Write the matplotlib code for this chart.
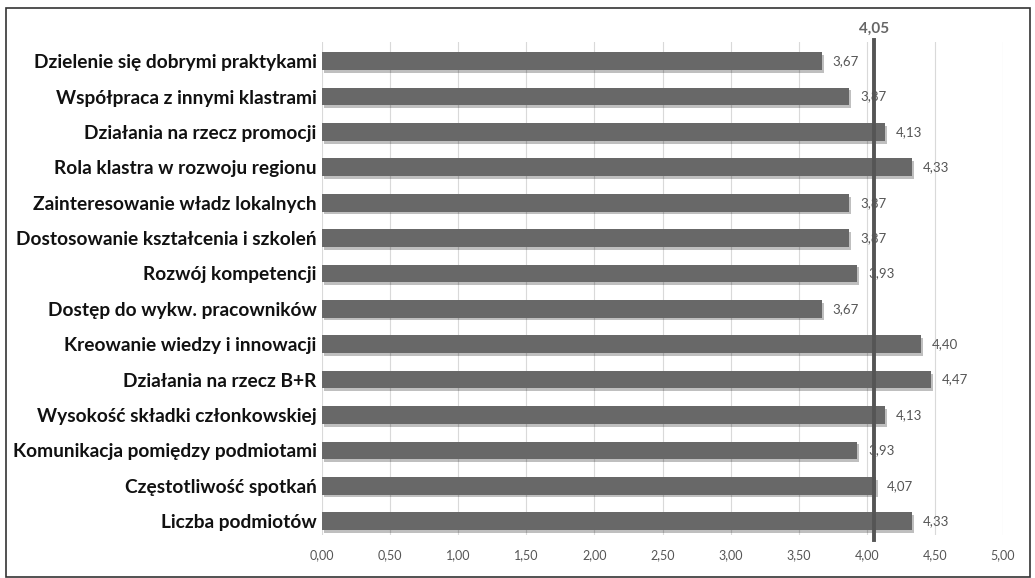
import matplotlib.pyplot as plt
import matplotlib.patheffects as pe
from matplotlib.patches import Rectangle

# kategorie od góry do dołu
kategorie = [
    "Dzielenie się dobrymi praktykami",
    "Współpraca z innymi klastrami",
    "Działania na rzecz promocji",
    "Rola klastra w rozwoju regionu",
    "Zainteresowanie władz lokalnych",
    "Dostosowanie kształcenia i szkoleń",
    "Rozwój kompetencji",
    "Dostęp do wykw. pracowników",
    "Kreowanie wiedzy i innowacji",
    "Działania na rzecz B+R",
    "Wysokość składki członkowskiej",
    "Komunikacja pomiędzy podmiotami",
    "Częstotliwość spotkań",
    "Liczba podmiotów",
]
oceny = [3.67, 3.87, 4.13, 4.33, 3.87, 3.87, 3.93, 3.67, 4.40, 4.47, 4.13, 3.93, 4.07, 4.33]
srednia = 4.05
ticki = [0, 0.5, 1, 1.5, 2, 2.5, 3, 3.5, 4, 4.5, 5]

plt.rcParams["font.family"] = ["Lato", "DejaVu Sans"]


def fmt(v):
    return f"{v:.2f}".replace(".", ",")


fig = plt.figure(figsize=(10.35, 5.78), dpi=100)
ax = fig.add_axes([322 / 1035, 1 - 535 / 578, (1003 - 322) / 1035, (535 - 42) / 578])

# ramka wokół wykresu
fig.patches.append(Rectangle((6 / 1035, 1 / 578), 1024 / 1035, 569 / 578,
                             transform=fig.transFigure, fill=False,
                             edgecolor="#333333", linewidth=1.2))

pozycje = list(range(len(kategorie)))
slupki = ax.barh(pozycje, oceny, height=0.5, color="#686868", zorder=3)
for s in slupki:
    s.set_path_effects([pe.SimplePatchShadow(offset=(1.5, -2), shadow_rgbFace="#000000", alpha=0.25),
                        pe.Normal()])

for p, v in zip(pozycje, oceny):
    ax.text(v + 0.08, p, fmt(v), va="center", ha="left", fontsize=9.5, color="#555555", zorder=4)

# linia średniej
ax.axvline(srednia, ymin=-0.01, ymax=1.005, color="#555555", linewidth=2.8, zorder=5, clip_on=False)
ax.text(srednia, -0.72, fmt(srednia), ha="center", va="bottom", fontsize=11,
        fontweight="bold", color="#666666")

ax.set_xlim(0, 5)
ax.set_ylim(13.39, -0.54)
ax.set_xticks(ticki)
ax.set_xticklabels([fmt(t) for t in ticki], fontsize=9, color="#555555")
ax.set_yticks(pozycje)
ax.set_yticklabels(kategorie, fontsize=13.8, fontweight="bold", color="#111111")
ax.tick_params(axis="both", length=0)
ax.tick_params(axis="x", pad=10)
ax.tick_params(axis="y", pad=4)
ax.grid(axis="x", color="#d9d9d9", linewidth=0.8, zorder=0)
for sp in ax.spines.values():
    sp.set_visible(False)

fig.savefig("out.png", dpi=100)
